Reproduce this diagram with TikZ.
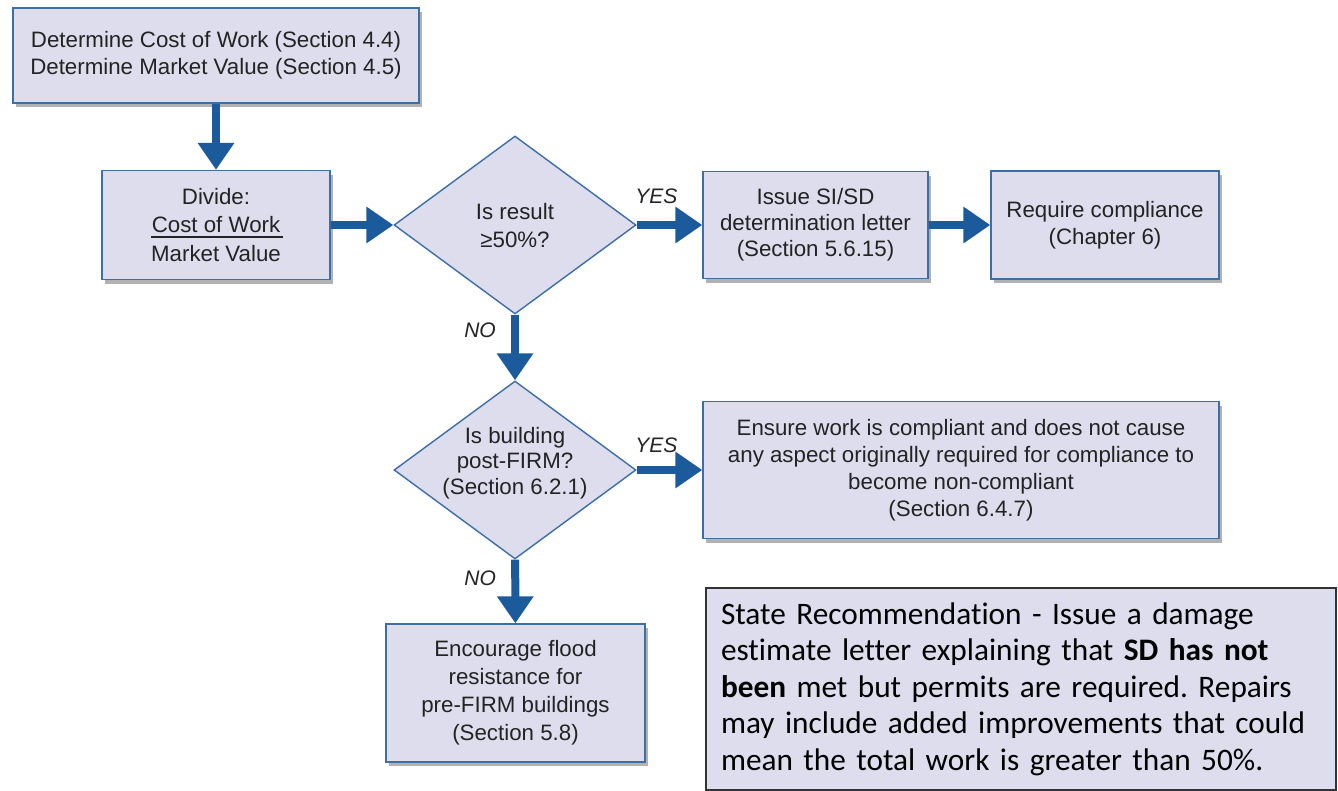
\documentclass[tikz,border=0pt]{standalone}
\usepackage{fontspec}
\setmainfont{Liberation Sans}
\newfontfamily\statefont[Ligatures={NoCommon}]{Carlito}
\usetikzlibrary{shapes.geometric,arrows.meta,shadows}
\definecolor{boxfill}{RGB}{221,221,237}
\definecolor{boxline}{RGB}{60,110,168}
\definecolor{arrowblue}{RGB}{28,91,155}
\definecolor{txt}{RGB}{35,35,35}
\begin{document}
\frenchspacing
\begin{tikzpicture}[x=1pt,y=-1pt,
 procbox/.style={rectangle, draw=boxline, line width=1.4pt, fill=boxfill, inner sep=0pt, align=center, text=txt,
   font=\fontsize{22.3}{27}\selectfont,
   drop shadow={shadow xshift=3pt,shadow yshift=-4pt,fill=black,opacity=0.3}},
 decision/.style={diamond, draw=boxline, line width=1.4pt, fill=boxfill, inner sep=0pt,
   minimum width=242pt, minimum height=178pt},
 dtext/.style={align=center, text=txt, inner sep=0pt},
 flow/.style={draw=arrowblue, line width=8pt, -{Triangle[width=35pt,length=27pt]}},
 answer/.style={font=\fontsize{21}{24}\selectfont\itshape, text=txt, inner sep=0pt}
]
\useasboundingbox (0,0) rectangle (1338,790);
\fill[white] (0,0) rectangle (1338,790);

\node[procbox, minimum width=406pt, minimum height=95pt] (top) at (216,55.5)
  {Determine Cost of Work (Section 4.4)\\Determine Market Value (Section 4.5)};
\node[procbox, minimum width=228pt, minimum height=109pt, font=\fontsize{22.3}{28.5}\selectfont] (divide) at (216,225)
  {Divide:\\Cost of Work\\Market Value};
\draw[txt, line width=1.5pt] ([xshift=-65pt,yshift=-12pt]divide.center) coordinate (fl) -- ([xshift=67pt,yshift=-12pt]divide.center) coordinate (fr);

\node[decision] (d1) at (515,225) {};
\node[dtext, font=\fontsize{22.3}{28}\selectfont] (d1t) at (515,226) {Is result\\≥50\%?};
\node[procbox, minimum width=225pt, minimum height=107pt, font=\fontsize{22.3}{26}\selectfont] (issue) at (815.5,225)
  {Issue SI/SD\\determination letter\\(Section 5.6.15)};
\node[procbox, minimum width=228pt, minimum height=108pt] (require) at (1105,225)
  {Require compliance\\(Chapter 6)};

\node[decision] (d2) at (515,470) {};
\node[dtext, font=\fontsize{22.3}{25.5}\selectfont] (d2t) at (515,463) {Is building\\post-FIRM?\\(Section 6.2.1)};
\node[procbox, minimum width=516pt, minimum height=137pt] (ensure) at (961,470)
  {Ensure work is compliant and does not cause\\any aspect originally required for compliance to\\become non-compliant\\(Section 6.4.7)};
\node[procbox, minimum width=259pt, minimum height=138pt, font=\fontsize{22.3}{28}\selectfont] (encourage) at (515.5,693)
  {Encourage flood\\resistance for\\pre-FIRM buildings\\(Section 5.8)};

\node[rectangle, draw=black!80, line width=1.6pt, fill=boxfill, minimum width=630pt, minimum height=202pt,
  text width=600pt, inner xsep=15pt, inner ysep=0pt, align=left, text=black,
  font=\statefont\fontsize{31.3}{36.5}\selectfont] (state) at (1021,689)
  {State Recommendation - Issue a damage estimate letter explaining that \textbf{SD has not been} met but permits are required. Repairs may include added improvements that could mean the total work is greater than 50\%.};

\draw[flow] (top) -- (divide);
\draw[flow] (divide) -- (d1);
\draw[flow] (d1) -- node[answer, pos=0.3, yshift=29pt] (yes1) {YES} (issue);
\draw[flow] (issue) -- (require);
\draw[flow] (d1) -- node[answer, pos=0.24, xshift=-35pt] (no1) {NO} (d2);
\draw[flow] (d2) -- node[answer, pos=0.3, yshift=25pt] (yes2) {YES} (ensure);
\draw[flow] (d2) -- node[answer, pos=0.3, xshift=-35pt] (no2) {NO} (encourage);
\end{tikzpicture}
\end{document}
